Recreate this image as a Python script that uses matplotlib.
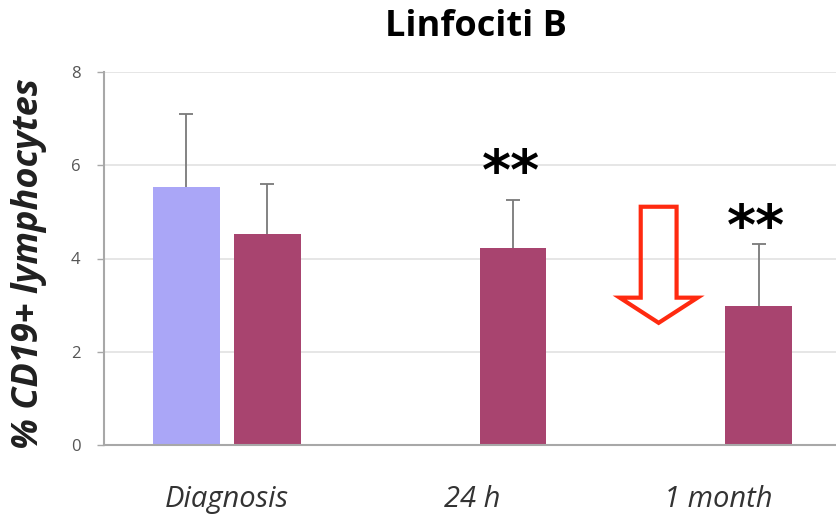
import matplotlib
matplotlib.use("Agg")
import matplotlib.pyplot as plt
from matplotlib.patches import FancyArrow
import numpy as np

categories = ["Diagnosis", "24 h", "1 month"]
# first series only present at diagnosis
series_a = [5.54, None, None]
series_a_err = [1.56, None, None]
series_b = [4.53, 4.23, 2.98]
series_b_err = [1.07, 1.03, 1.33]
significance = ["", "**", "**"]
star_gap = [0, 0.55, 0.33]
y_ticks = [0, 2, 4, 6, 8]

color_a = "#aaa6f7"
color_b = "#a8446f"
grid_color = "#e2e2e2"
axis_color = "#a8a8a8"

plt.rcParams["font.family"] = ["Open Sans", "DejaVu Sans"]

fig = plt.figure(figsize=(8.36, 5.17), dpi=100)
ax = fig.add_axes([104 / 836, 72 / 517, 1 - 104 / 836, (445 - 72) / 517])

x = np.arange(len(categories))
width = 0.272
offset = 0.165


def upper_error(xpos, value, err):
    # one-sided (upward) error bar: hide the cap sitting on the bar top
    eb = ax.errorbar(xpos, value, yerr=[[0], [err]], fmt="none",
                     ecolor="#7a7a7a", elinewidth=1.3, capsize=5,
                     capthick=1.3, zorder=3)
    for cap in eb[1]:
        if np.allclose(cap.get_ydata(), value):
            cap.set_visible(False)


for i in range(len(categories)):
    if series_a[i] is not None:
        ax.bar(x[i] - offset, series_a[i], width, color=color_a, zorder=2)
        upper_error(x[i] - offset, series_a[i], series_a_err[i])
    ax.bar(x[i] + offset, series_b[i], width, color=color_b, zorder=2)
    upper_error(x[i] + offset, series_b[i], series_b_err[i])
    if significance[i]:
        ax.text(x[i] + offset - 0.01, series_b[i] + series_b_err[i] + star_gap[i],
                significance[i], ha="center", va="center", fontsize=40,
                fontweight="bold", family="DejaVu Sans", color="black")

ax.set_xlim(-0.5, 2.48)
ax.set_ylim(0, 8)
ax.set_yticks(y_ticks)
ax.set_yticklabels([str(t) for t in y_ticks], fontsize=12, color="#555555")
ax.set_xticks(x)
ax.set_xticklabels(categories, fontsize=21, style="italic", color="#333333")
ax.tick_params(axis="x", length=0, pad=29)
ax.tick_params(axis="y", length=5, width=1, color=axis_color, pad=12)
ax.yaxis.grid(True, color=grid_color, linewidth=1.2, zorder=0)
ax.set_axisbelow(True)
for side in ["top", "right"]:
    ax.spines[side].set_visible(False)
for side in ["left", "bottom"]:
    ax.spines[side].set_color(axis_color)
    ax.spines[side].set_linewidth(1.5)

# outlined red arrow pointing down toward the 1-month value
ax.add_patch(FancyArrow(1.758, 5.11, 0, -2.49, width=0.146, head_width=0.317,
                        head_length=0.54, length_includes_head=True,
                        facecolor="none", edgecolor="#ff2a10", linewidth=3,
                        zorder=4))

fig.text(476 / 836, 1 - 27 / 517, "Linfociti B", ha="center", va="center",
         fontsize=26, fontweight="bold")
fig.text(29 / 836, 1 - 264 / 517, "% CD19+ lymphocytes", ha="center",
         va="center", rotation=90, fontsize=26, fontweight="bold",
         style="italic", color="#202020")

fig.savefig("out.png", dpi=100)
